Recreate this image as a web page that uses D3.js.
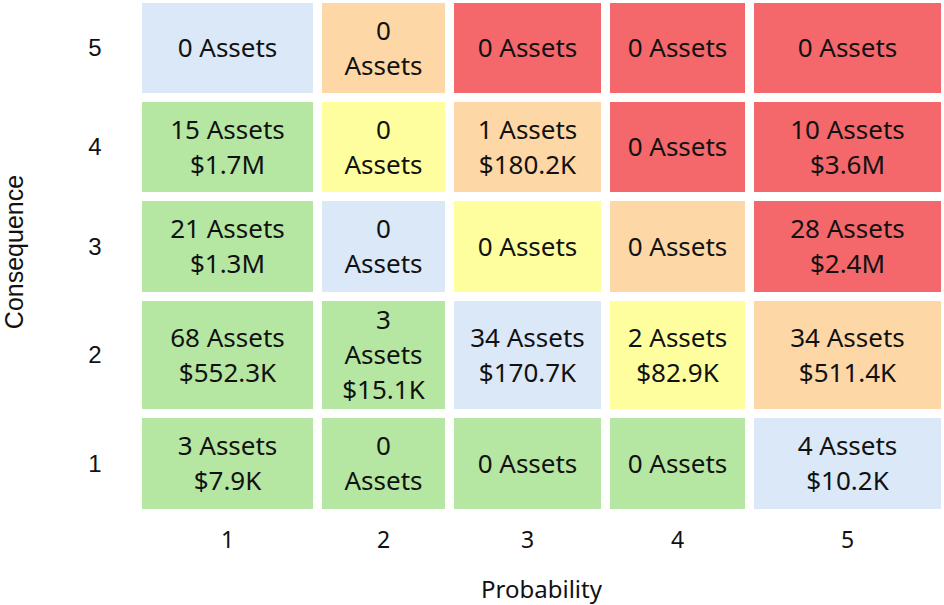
<!DOCTYPE html>
<html>
<head>
<meta charset="utf-8">
<script src="https://cdn.jsdelivr.net/npm/d3@7"></script>
<style>
  body { margin: 0; background: #fff; }
  svg { display: block; }
</style>
</head>
<body>
<svg id="chart"></svg>
<script>
// risk matrix data, rows from consequence 5 (top) down to 1
const probabilities = [1, 2, 3, 4, 5]
const consequences = [5, 4, 3, 2, 1]

const assetCounts = [
  [0, 0, 0, 0, 0],
  [15, 0, 1, 0, 10],
  [21, 0, 0, 0, 28],
  [68, 3, 34, 2, 34],
  [3, 0, 0, 0, 4]
]

const assetValues = [
  [null, null, null, null, null],
  [1700000, null, 180200, null, 3600000],
  [1300000, null, null, null, 2400000],
  [552300, 15100, 170700, 82900, 511400],
  [7900, null, null, null, 10200]
]

const riskLevels = [
  ['low', 'high', 'extreme', 'extreme', 'extreme'],
  ['minimal', 'medium', 'high', 'extreme', 'extreme'],
  ['minimal', 'low', 'medium', 'high', 'extreme'],
  ['minimal', 'minimal', 'low', 'medium', 'high'],
  ['minimal', 'minimal', 'minimal', 'minimal', 'low']
]

const levelNames = ['minimal', 'low', 'medium', 'high', 'extreme']
const levelColors = ['#b5e6a2', '#dae8f7', '#fffe9f', '#fed7a6', '#f4676a']

// layout
const W = 944, H = 605
const gridLeft = 142, gridTop = 3, gap = 9
const colWidths = [171, 123, 147, 135, 187]
const rowHeights = [90, 90, 91, 108, 91]
const cellFont = '"Noto Sans", sans-serif'
const cellSize = 26
const lineH = 35
const pad = 14

const svg = d3.select('#chart').attr('width', W).attr('height', H)

const colLefts = d3.cumsum([0].concat(colWidths.slice(0, -1)), (d, i) => d + (i ? gap : 0)).map(v => v + gridLeft)
const rowTops = d3.cumsum([0].concat(rowHeights.slice(0, -1)), (d, i) => d + (i ? gap : 0)).map(v => v + gridTop)

const x = d3.scaleOrdinal().domain(probabilities).range(colLefts)
const xw = d3.scaleOrdinal().domain(probabilities).range(colWidths)
const y = d3.scaleOrdinal().domain(consequences).range(rowTops)
const yh = d3.scaleOrdinal().domain(consequences).range(rowHeights)
const color = d3.scaleOrdinal().domain(levelNames).range(levelColors)

function money(v) {
  if (v >= 1e6) return '$' + (v / 1e6).toFixed(1) + 'M'
  return '$' + (v / 1e3).toFixed(1) + 'K'
}

const cells = []
consequences.forEach((c, r) => {
  probabilities.forEach((p, k) => {
    cells.push({ p, c, count: assetCounts[r][k], value: assetValues[r][k], level: riskLevels[r][k] })
  })
})

// measuring text for wrapping
const measure = svg.append('text').attr('font-family', cellFont).attr('font-size', cellSize).attr('visibility', 'hidden')
function textWidth(s) { measure.text(s); return measure.node().getComputedTextLength() }

const cell = svg.append('g').selectAll('g')
  .data(cells)
  .join('g')
  .attr('transform', d => `translate(${x(d.p)},${y(d.c)})`)

cell.append('rect')
  .attr('width', d => xw(d.p))
  .attr('height', d => yh(d.c))
  .attr('fill', d => color(d.level))

cell.each(function (d) {
  const avail = xw(d.p) - 2 * pad
  let lines = [d.count + ' Assets']
  if (textWidth(lines[0]) > avail) lines = [String(d.count), 'Assets']
  if (d.value != null) lines.push(money(d.value))
  const h = yh(d.c)
  const t = d3.select(this).append('text')
    .attr('font-family', cellFont)
    .attr('font-size', cellSize)
    .attr('fill', '#111')
    .attr('text-anchor', 'middle')
  lines.forEach((s, i) => {
    t.append('tspan')
      .attr('x', xw(d.p) / 2)
      .attr('y', h / 2 + (i - (lines.length - 1) / 2) * lineH)
      .attr('dy', '0.35em')
      .text(s)
  })
})
measure.remove()

// axis labels
svg.append('g').selectAll('text')
  .data(probabilities)
  .join('text')
  .attr('x', d => x(d) + xw(d) / 2)
  .attr('y', 540)
  .attr('dy', '0.35em')
  .attr('text-anchor', 'middle')
  .attr('font-family', cellFont)
  .attr('font-size', 23)
  .attr('fill', '#111')
  .text(d => d)

svg.append('g').selectAll('text')
  .data(consequences)
  .join('text')
  .attr('x', 95)
  .attr('y', d => y(d) + yh(d) / 2)
  .attr('dy', '0.35em')
  .attr('text-anchor', 'middle')
  .attr('font-family', '"Liberation Sans", Arial, sans-serif')
  .attr('font-size', 24)
  .attr('fill', '#111')
  .text(d => d)

const gridRight = x(5) + xw(5)
const gridBottom = y(1) + yh(1)

svg.append('text')
  .attr('x', (gridLeft + gridRight) / 2)
  .attr('y', 590)
  .attr('dy', '0.35em')
  .attr('text-anchor', 'middle')
  .attr('font-family', cellFont)
  .attr('font-size', 24)
  .attr('fill', '#111')
  .text('Probability')

svg.append('text')
  .attr('transform', `translate(14,${(gridTop + gridBottom) / 2 - 4}) rotate(-90)`)
  .attr('dy', '0.35em')
  .attr('text-anchor', 'middle')
  .attr('font-family', '"Liberation Sans", Arial, sans-serif')
  .attr('font-size', 25)
  .attr('fill', '#111')
  .text('Consequence')
</script>
</body>
</html>
